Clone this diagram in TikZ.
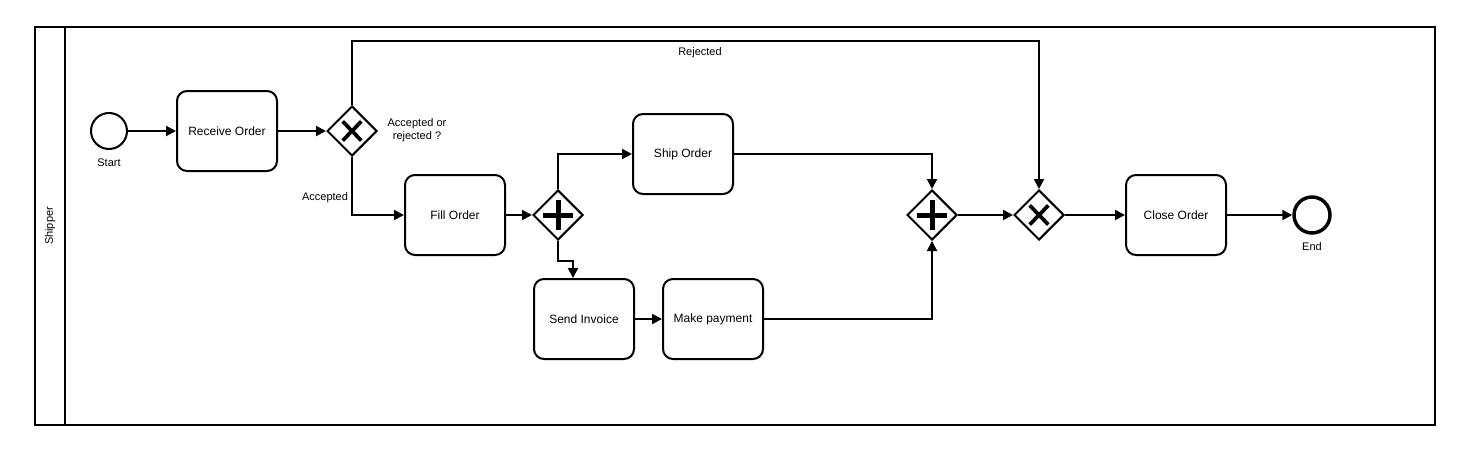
\documentclass[tikz,border=0pt]{standalone}
\usepackage{fontspec}
\setmainfont{Liberation Sans}
\usetikzlibrary{shapes.geometric,arrows.meta}

\tikzset{
	task/.style={draw, rounded corners=7.5pt, minimum width=75pt, minimum height=60pt, font=\fontsize{9}{11}\selectfont},
	gate/.style={draw, diamond, aspect=1, inner sep=0pt, minimum size=37.5pt},
	xgate/.style={gate, path picture={\draw[line width=2.8pt] (path picture bounding box.center) ++(-7pt,-7.2pt) -- ++(14pt,14.4pt) (path picture bounding box.center) ++(-7pt,7.2pt) -- ++(14pt,-14.4pt);}},
	pgate/.style={gate, path picture={\draw[line width=3.75pt] (path picture bounding box.center) ++(-11.6pt,0) -- ++(23.2pt,0) (path picture bounding box.center) ++(0,-11.6pt) -- ++(0,23.2pt);}},
	event/.style={draw, circle, inner sep=0pt, minimum size=27pt},
	lbl/.style={font=\fontsize{8.25}{10}\selectfont, align=center},
	flow/.style={-{Triangle[length=7.5pt,width=7.5pt]}}
}
\tikzset{every picture/.style={line width=1.5pt}}

\begin{document}
\begin{tikzpicture}[x=0.75pt,y=0.75pt,yscale=-1,xscale=1]
	\useasboundingbox (0,0) rectangle (1458,460);

	%Shape: Pool
	\draw (35,27) rectangle (1435,425);
	\draw (65,27) -- (65,425);
	% Text Node
	\node[lbl, rotate=90] (lane) at (50,226) {Shipper};

	%Events
	\node[event] (start) at (109,131) {};
	\node[event, line width=2.6pt] (end) at (1312,215) {};
	\node[lbl] (startlbl) at (109,163) {Start};
	\node[lbl] (endlbl) at (1312,247) {End};

	%Tasks
	\node[task] (receive) at (227,131) {Receive Order};
	\node[task] (fill) at (455,215) {Fill Order};
	\node[task] (ship) at (683,154) {Ship Order};
	\node[task] (invoice) at (584,319) {Send Invoice};
	\node[task] (payment) at (713,319) {Make payment};
	\node[task] (close) at (1176,215) {Close Order};

	%Gateways
	\node[xgate] (decide) at (352,131) {};
	\node[pgate] (split) at (558,215) {};
	\node[pgate] (join) at (932,215) {};
	\node[xgate] (merge) at (1039,215) {};

	%Flows
	\draw[flow] (start) -- (receive);
	\draw[flow] (receive) -- (decide);
	\draw[flow] (decide.north) -- ++(0,-64) -| (merge.north);
	\draw[flow] (decide.south) |- (fill.west);
	\draw[flow] (fill) -- (split);
	\draw[flow] (split.north) |- (ship.west);
	\draw[flow] (split.south) -- ++(0,20) -| ([xshift=-8.25pt]invoice.north);
	\draw[flow] (invoice) -- (payment);
	\draw[flow] (ship.east) -| (join.north);
	\draw[flow] (payment.east) -| (join.south);
	\draw[flow] (join) -- (merge);
	\draw[flow] (merge) -- (close);
	\draw[flow] (close) -- (end);

	% Text Node
	\node[lbl] (rejected) at (700,53) {Rejected};
	% Text Node
	\node[lbl] (accepted) at (325,198) {Accepted};
	% Text Node
	\node[lbl] (question) at (417,130) {Accepted or\\rejected ?};

\end{tikzpicture}
\end{document}
